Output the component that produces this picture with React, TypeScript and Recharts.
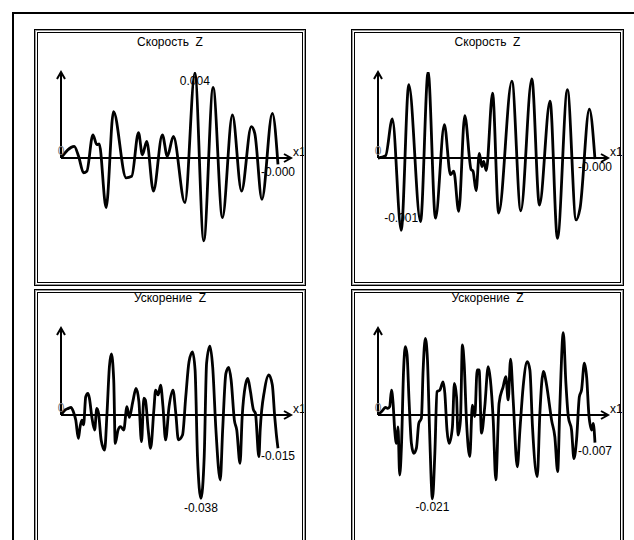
import { LineChart, Line, XAxis, YAxis, ReferenceLine, ReferenceDot } from "recharts"

// time in % of record length
const velLeftT = [0, 6.1, 8.1, 10.4, 11.9, 14.7, 16.5, 17.6, 20.8, 24.2, 30.0, 32.6, 35.7, 37.5, 39.5, 42.6, 46.7, 49.0, 51.8, 57.1, 61.7, 65.8, 70.1, 74.4, 79.0, 83.2, 87.7, 89.3, 92.6, 97.4, 100]
const velLeftV = [0, 0.00054, 0.00008, -0.00069, -0.00062, 0.00108, 0.00062, 0.00066, -0.00231, 0.00215, -0.00092, -0.00085, 0.00118, 0.00015, 0.00077, -0.00154, 0.00108, 0.00008, 0.001, -0.00208, 0.00395, -0.00385, 0.00328, -0.00277, 0.002, -0.00154, 0.00146, 0.00115, -0.00192, 0.00208, -0.0003]

const velRightT = [0, 3.5, 6.6, 10.7, 14.2, 19.6, 23.1, 26.5, 30.6, 33.4, 34.9, 37.2, 40.0, 42.9, 43.8, 45.2, 46.7, 47.9, 48.7, 49.9, 52.8, 55.6, 61.7, 65.8, 70.9, 74.4, 79.3, 82.7, 87.3, 91.3, 93.1, 97.4, 100]
const velRightV = [0, 0.00004, 0.00068, -0.00126, 0.00128, -0.00111, 0.0015, -0.00105, 0.00058, -0.00029, -0.00023, -0.00093, 0.00074, -0.0002, -0.00023, -0.00057, 0.00008, -0.00015, -0.00006, -0.00022, 0.00113, -0.00096, 0.00134, -0.00092, 0.00138, -0.00082, 0.00099, -0.0014, 0.00119, -0.00108, -0.00088, 0.00085, -0.00002]

const accLeftT = [0, 1.9, 3.4, 4.6, 5.7, 6.8, 8.0, 8.8, 9.6, 10.4, 11.4, 12.4, 13.1, 14.2, 15.5, 16.5, 17.3, 18.5, 20.1, 21.2, 22.3, 23.2, 24.3, 25.0, 26.3, 27.4, 28.9, 30.4, 31.5, 33.1, 34.6, 35.9, 37.1, 38.2, 38.9, 40.2, 41.3, 42.8, 43.6, 44.8, 45.9, 47.0, 48.2, 49.8, 51.6, 52.9, 54.1, 56.0, 57.5, 59.0, 60.6, 61.8, 62.9, 64.5, 66.0, 67.1, 68.6, 69.9, 71.4, 73.4, 74.5, 76.0, 77.3, 78.4, 79.9, 81.0, 82.5, 83.5, 85.0, 86.1, 87.2, 88.7, 89.6, 91.2, 91.8, 93.8, 95.8, 97.4, 98.5, 99.2, 100]
const accLeftV = [0, 0.0023, 0.003, 0.0035, 0.0015, -0.0023, -0.0106, -0.0053, -0.0023, -0.0045, 0.0083, 0.0098, 0.0076, -0.0008, -0.0068, 0.003, 0.0008, -0.0113, -0.0159, 0.0008, 0.0219, 0.0277, 0.0159, -0.0129, -0.0068, -0.0053, -0.0068, 0.0038, -0.0011, 0.0061, 0.0121, 0.0061, -0.0121, 0.0076, 0.0068, -0.0068, -0.0151, 0.0023, 0.0113, 0.0091, 0.0136, 0.0038, -0.0113, 0.0038, 0.0113, 0.0008, -0.0113, -0.0091, 0.0083, 0.0242, 0.0287, 0.0204, -0.0189, -0.0378, -0.0189, 0.0235, 0.0313, 0.0219, -0.0068, -0.0295, -0.0068, 0.0189, 0.0216, 0.0159, -0.0023, -0.0068, -0.0219, -0.0008, 0.0136, 0.0166, 0.0113, 0.0023, 0.0008, -0.0189, -0.0068, 0.0113, 0.0182, 0.0136, -0.0008, -0.0083, -0.0151]

const accRightT = [0, 2.0, 3.5, 4.6, 5.4, 6.2, 6.9, 7.7, 8.5, 9.2, 10.0, 10.8, 11.8, 12.6, 13.4, 14.3, 15.4, 16.5, 17.7, 18.8, 20.0, 20.8, 21.8, 22.8, 23.8, 25.1, 26.2, 27.2, 28.5, 30.0, 30.8, 31.8, 32.8, 34.3, 35.2, 36.2, 36.9, 38.0, 38.9, 39.7, 40.8, 42.3, 43.5, 44.6, 45.7, 46.6, 47.7, 49.2, 50.8, 51.8, 53.1, 54.3, 55.8, 57.7, 58.9, 60.0, 61.1, 62.3, 64.2, 65.4, 66.9, 68.8, 70.0, 71.2, 73.4, 74.6, 76.2, 77.7, 78.9, 80.0, 81.5, 82.8, 83.8, 85.4, 86.6, 87.7, 89.2, 90.3, 91.5, 92.8, 93.8, 95.1, 96.2, 97.2, 98.5, 99.2, 100]
const accRightV = [0, 0.0011, 0.0019, 0.0017, 0.0021, 0.0063, 0.0034, -0.0038, -0.0072, -0.003, -0.0152, -0.008, 0.0114, 0.0173, 0.0152, 0.0038, -0.0072, -0.0097, -0.0084, -0.0021, -0.0008, 0.0114, 0.0194, 0.0139, -0.0046, -0.0212, -0.0097, 0.0059, 0.0063, 0.0084, 0.0055, -0.0038, -0.0072, -0.003, 0.008, 0.0046, -0.0051, -0.0013, 0.0177, 0.0131, -0.0017, -0.0105, 0.0025, -0.0004, 0.0114, 0.0114, -0.0046, 0.0021, 0.0122, 0.0089, -0.0013, -0.0164, 0.003, 0.0072, 0.0097, 0.0038, 0.0141, 0.0038, -0.0131, -0.0038, 0.0072, 0.0135, 0.0114, -0.003, -0.0156, 0.0004, 0.011, 0.0076, 0.003, -0.0013, -0.0055, -0.0143, 0.0021, 0.0208, 0.008, -0.0004, -0.0038, -0.011, -0.0063, 0.0046, 0.0063, 0.0131, 0.0093, 0, -0.0038, -0.0021, -0.007]

const FONT = "'Liberation Sans', Arial, sans-serif"

const panels = [
  { id: "tl", left: 34, top: 29, width: 272, title: "Скорость  Z", titleY: 17, t: velLeftT, v: velLeftV, range: 0.004, mark: 20, markDy: 12, margin: { top: 43, bottom: 42, left: 27, right: 15 } },
  { id: "tr", left: 351, top: 29, width: 273, title: "Скорость  Z", titleY: 17, t: velRightT, v: velRightV, range: 0.0015, mark: 3, markDy: -8, margin: { top: 43, bottom: 42, left: 27, right: 16 } },
  { id: "bl", left: 34, top: 289, width: 272, title: "Ускорение  Z", titleY: 13, t: accLeftT, v: accLeftV, range: 0.0395, mark: 53, markDy: 14, margin: { top: 39, bottom: 44, left: 27, right: 15 } },
  { id: "br", left: 351, top: 289, width: 273, title: "Ускорение  Z", titleY: 13, t: accRightT, v: accRightV, range: 0.022, mark: 25, markDy: 12, margin: { top: 39, bottom: 44, left: 27, right: 16 } },
]

const PANEL_H = 257

function arrow(label?: string) {
  return (p: any) => {
    const { x1, y1, x2, y2 } = p
    const dx = x2 - x1
    const dy = y2 - y1
    const len = Math.hypot(dx, dy) || 1
    const ux = dx / len
    const uy = dy / len
    const bx = x2 - ux * 7
    const by = y2 - uy * 7
    const wx = -uy * 4
    const wy = ux * 4
    return (
      <g>
        <line x1={x1} y1={y1} x2={x2} y2={y2} stroke="#000" strokeWidth={2} />
        <polyline
          points={`${bx + wx},${by + wy} ${x2},${y2} ${bx - wx},${by - wy}`}
          fill="none"
          stroke="#000"
          strokeWidth={2}
        />
        {label && (
          <text x={x2 + 2} y={y2 - 2} fontSize={12} fontFamily={FONT} fill="#000">
            {label}
          </text>
        )}
      </g>
    )
  }
}

function textMark(text: string, dy: number, color = "#000") {
  return (p: any) => (
    <text x={p.cx} y={p.cy + dy} textAnchor="middle" fontSize={12} fontFamily={FONT} fill={color}>
      {text}
    </text>
  )
}

function Frame() {
  const line = (inset: number, color: string) => (
    <div
      style={{
        position: "absolute",
        left: inset,
        top: inset,
        right: inset,
        bottom: inset,
        border: `1px solid ${color}`,
      }}
    />
  )
  return (
    <div style={{ position: "absolute", inset: 0, pointerEvents: "none" }}>
      {line(0, "#000")}
      {line(1, "#9a9a9a")}
      {line(3, "#000")}
    </div>
  )
}

function Panel({ cfg }: { cfg: (typeof panels)[number] }) {
  const data = cfg.t.map((t, i) => ({ t, v: cfg.v[i] }))
  const peak = data[cfg.mark]
  const last = data[data.length - 1]
  const A = cfg.range
  return (
    <div
      style={{
        position: "absolute",
        left: cfg.left,
        top: cfg.top,
        width: cfg.width,
        height: PANEL_H,
        background: "#fff",
      }}
    >
      <svg width={cfg.width} height={30} style={{ position: "absolute", left: 0, top: 0 }}>
        <text
          x={cfg.width / 2}
          y={cfg.titleY}
          textAnchor="middle"
          fontSize={12}
          fontFamily={FONT}
          fill="#000"
          style={{ whiteSpace: "pre" }}
        >
          {cfg.title}
        </text>
      </svg>
      <div style={{ position: "absolute", left: 0, top: 0 }}>
        <LineChart width={cfg.width} height={PANEL_H} data={data} margin={cfg.margin}>
          <XAxis dataKey="t" type="number" domain={[0, 106]} hide allowDataOverflow />
          <YAxis type="number" domain={[-A, A]} hide allowDataOverflow />
          <ReferenceDot x={0} y={0} r={0} shape={textMark("0", -3, "#777")} />
          <Line
            dataKey="v"
            type="monotone"
            stroke="#000"
            strokeWidth={2.8}
            dot={false}
            isAnimationActive={false}
          />
          <ReferenceLine segment={[{ x: 0, y: 0 }, { x: 106, y: 0 }]} shape={arrow("x1")} />
          <ReferenceLine segment={[{ x: 0, y: 0 }, { x: 0, y: A }]} shape={arrow()} />
          <ReferenceDot x={peak.t} y={peak.v} r={0} shape={textMark(peak.v.toFixed(3), cfg.markDy)} />
          <ReferenceDot x={last.t} y={last.v} r={0} shape={textMark(last.v.toFixed(3), 12)} />
        </LineChart>
      </div>
      <Frame />
    </div>
  )
}

export default function App() {
  return (
    <div
      style={{
        position: "absolute",
        left: 0,
        top: 0,
        width: 634,
        height: 540,
        overflow: "hidden",
        background: "#fff",
      }}
    >
      <div
        style={{
          position: "absolute",
          left: 12,
          top: 12,
          width: 700,
          height: 600,
          borderLeft: "2px solid #000",
          borderTop: "2px solid #000",
        }}
      />
      {panels.map((p) => (
        <Panel key={p.id} cfg={p} />
      ))}
    </div>
  )
}
